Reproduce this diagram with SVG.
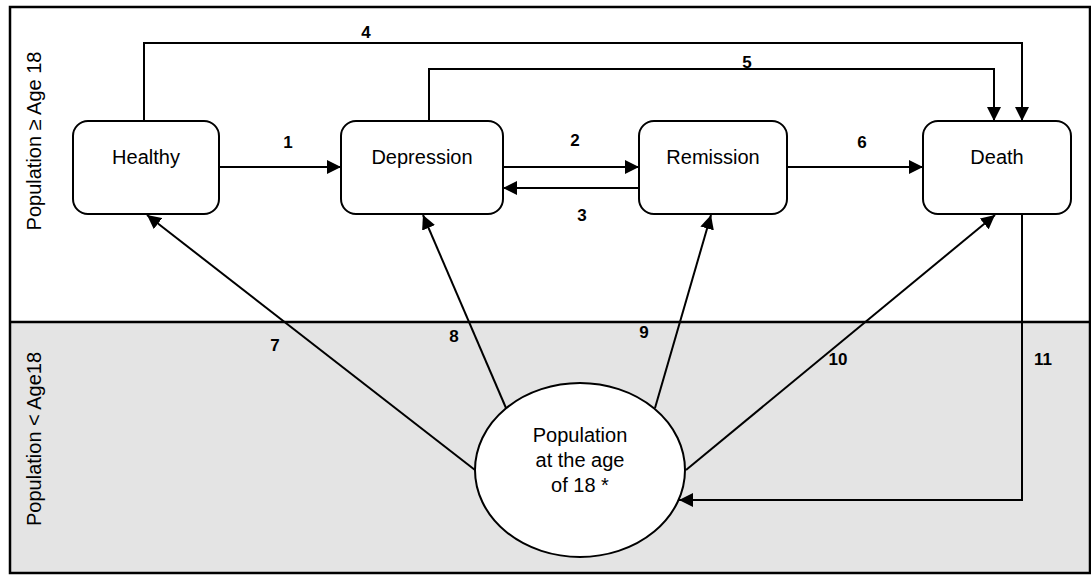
<svg xmlns="http://www.w3.org/2000/svg" width="1091" height="575" viewBox="0 0 1091 575">
<style>
.node{fill:#fff;stroke:#000;stroke-width:2}
.nt{font-family:"Liberation Sans",Arial,sans-serif;font-size:20px;fill:#000;text-anchor:middle}
.lbl{font-family:"Liberation Sans",Arial,sans-serif;font-size:17px;font-weight:bold;fill:#000;text-anchor:middle}
.side{font-family:"Liberation Sans",Arial,sans-serif;font-size:20px;fill:#000;text-anchor:middle}
.c{fill:none;stroke:#000;stroke-width:2}
.ca{fill:none;stroke:#000;stroke-width:2;marker-end:url(#ah)}
</style>
<defs>
<marker id="ah" markerUnits="userSpaceOnUse" markerWidth="15" markerHeight="14" refX="14" refY="7" orient="auto" viewBox="0 0 15 14">
<path d="M0,0 L14,7 L0,14 z" fill="#000"/>
</marker>
</defs>
<g id="background">
<rect x="10" y="7" width="1080" height="315" fill="#fff"/>
<rect x="10" y="322" width="1080" height="251" fill="#e4e4e4"/>
<rect x="10" y="7" width="1080" height="566" fill="none" stroke="#000" stroke-width="2.5"/>
<line x1="10" y1="322" x2="1090" y2="322" stroke="#000" stroke-width="2.5"/>
<text class="side" transform="translate(41,141) rotate(-90)">Population ≥ Age 18</text>
<text class="side" transform="translate(41,439) rotate(-90)">Population &lt; Age18</text>
</g>
<g id="connectors">
<polyline class="ca" points="144,121 144,43 1022,43 1022,121"/>
<polyline class="ca" points="429,121 429,69 994,69 994,121"/>
<line class="ca" x1="219" y1="167" x2="341" y2="167"/>
<line class="ca" x1="503" y1="167" x2="639" y2="167"/>
<line class="ca" x1="639" y1="188" x2="503" y2="188"/>
<line class="ca" x1="787" y1="167" x2="923" y2="167"/>
<line class="ca" x1="475" y1="470" x2="147" y2="215"/>
<line class="ca" x1="506" y1="408" x2="423" y2="215"/>
<line class="ca" x1="655" y1="408" x2="711" y2="215"/>
<line class="ca" x1="686" y1="470" x2="995" y2="215"/>
<polyline class="ca" points="1022,214 1022,500 679,500"/>
<text class="lbl" x="366" y="38">4</text>
<text class="lbl" x="747" y="68">5</text>
<text class="lbl" x="288" y="148">1</text>
<text class="lbl" x="575" y="146">2</text>
<text class="lbl" x="582" y="221">3</text>
<text class="lbl" x="862" y="148">6</text>
<text class="lbl" x="275" y="351">7</text>
<text class="lbl" x="454" y="342">8</text>
<text class="lbl" x="644" y="338">9</text>
<text class="lbl" x="838" y="365">10</text>
<text class="lbl" x="1043" y="365">11</text>
</g>
<g id="healthy">
<rect class="node" x="73" y="121" width="146" height="93" rx="15"/>
<text class="nt" x="146" y="164">Healthy</text>
</g>
<g id="depression">
<rect class="node" x="341" y="121" width="162" height="93" rx="15"/>
<text class="nt" x="422" y="164">Depression</text>
</g>
<g id="remission">
<rect class="node" x="639" y="121" width="148" height="93" rx="15"/>
<text class="nt" x="713" y="164">Remission</text>
</g>
<g id="death">
<rect class="node" x="923" y="121" width="148" height="93" rx="15"/>
<text class="nt" x="997" y="164">Death</text>
</g>
<g id="population18">
<ellipse class="node" cx="580" cy="470" rx="105" ry="87"/>
<text class="nt" x="580" y="442">Population</text>
<text class="nt" x="580" y="467">at the age</text>
<text class="nt" x="580" y="492">of 18 *</text>
</g>
</svg>
